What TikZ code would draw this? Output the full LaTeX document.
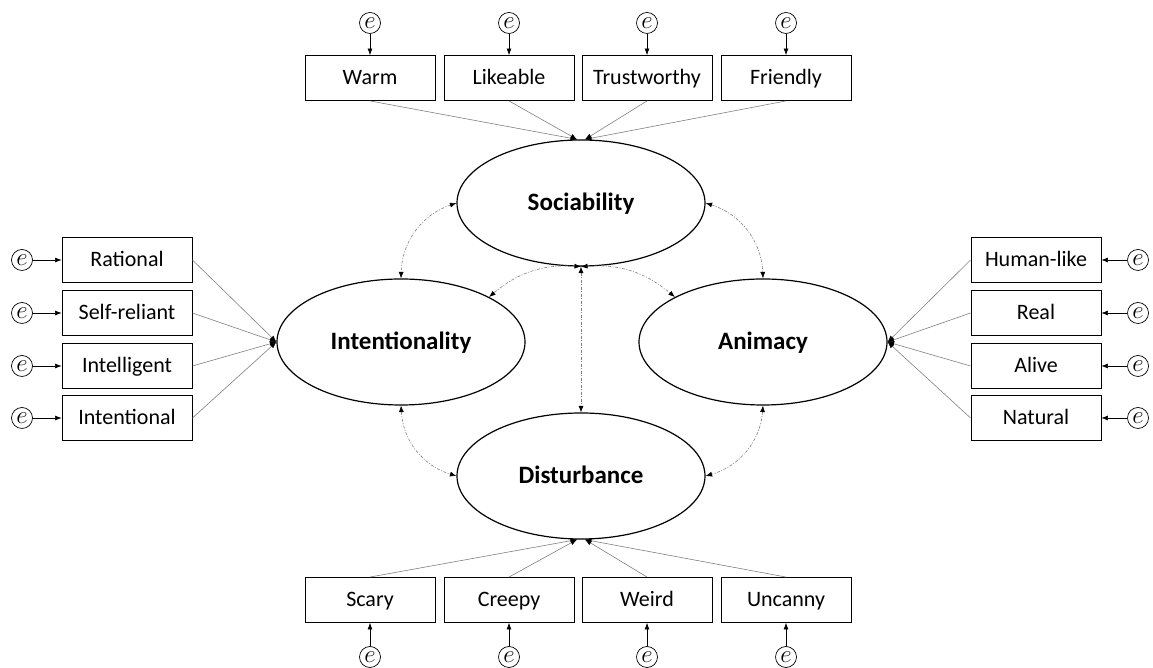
\documentclass[tikz,border=0pt]{standalone}
\usepackage{fontspec}
\setmainfont{Carlito}
\usepackage{tikz}
\usetikzlibrary{arrows.meta,shapes.geometric}

\begin{document}
\begin{tikzpicture}[x=1pt, y=1pt,
    obs/.style={draw, line width=0.9pt, minimum width=130pt, minimum height=45pt, inner sep=0pt, text height=14pt, text depth=0pt, font=\fontsize{22}{24}\selectfont},
    lat/.style={draw, ellipse, line width=1.2pt, minimum width=248pt, minimum height=126pt, inner sep=0pt, text height=16pt, text depth=0pt, font=\fontsize{25}{28}\selectfont\bfseries},
    err/.style={draw, circle, line width=0.7pt, minimum size=21pt, inner sep=0pt, font=\fontsize{24}{24}\selectfont},
    load/.style={-{Latex[length=6.5pt,width=5pt,color=black]}, draw=gray, line width=0.6pt},
    res/.style={-{Latex[length=6.5pt,width=5pt]}, line width=0.6pt},
    cov/.style={{Latex[length=6.5pt,width=5pt,color=black]}-{Latex[length=6.5pt,width=5pt,color=black]}, draw=gray, line width=0.6pt, dash pattern=on 3pt off 1.5pt on 1pt off 1.5pt}]
	\useasboundingbox (0, 0) rectangle (1153, 668);
	% latent factors
	\node[lat] (soc) at (581, 465) {Sociability};
	\node[lat] (int) at (401, 326) {Intentionality};
	\node[lat] (ani) at (763, 326) {Animacy};
	\node[lat] (dis) at (581, 192) {Disturbance};
	% sociability items
	\node[obs] (warm) at (370, 590) {Warm};
	\node[obs] (like) at (509, 590) {Likeable};
	\node[obs] (trust) at (647, 590) {Trustworthy};
	\node[obs] (friend) at (786, 590) {Friendly};
	\node[err] (ewarm) at (370, 645) {$e$};
	\node[err] (elike) at (509, 645) {$e$};
	\node[err] (etrust) at (647, 645) {$e$};
	\node[err] (efriend) at (786, 645) {$e$};
	% intentionality items
	\node[obs] (rat) at (127, 408) {Rational};
	\node[obs] (self) at (127, 355) {Self-reliant};
	\node[obs] (intel) at (127, 302) {Intelligent};
	\node[obs] (inten) at (127, 250) {Intentional};
	\node[err] (erat) at (22, 408) {$e$};
	\node[err] (eself) at (22, 355) {$e$};
	\node[err] (eintel) at (22, 302) {$e$};
	\node[err] (einten) at (22, 250) {$e$};
	% animacy items
	\node[obs] (hum) at (1036, 408) {Human-like};
	\node[obs] (real) at (1036, 355) {Real};
	\node[obs] (alive) at (1036, 302) {Alive};
	\node[obs] (nat) at (1036, 250) {Natural};
	\node[err] (ehum) at (1138, 408) {$e$};
	\node[err] (ereal) at (1138, 355) {$e$};
	\node[err] (ealive) at (1138, 302) {$e$};
	\node[err] (enat) at (1138, 250) {$e$};
	% disturbance items
	\node[obs] (scary) at (370, 68) {Scary};
	\node[obs] (creepy) at (509, 68) {Creepy};
	\node[obs] (weird) at (647, 68) {Weird};
	\node[obs] (unc) at (786, 68) {Uncanny};
	\node[err] (escary) at (370, 11) {$e$};
	\node[err] (ecreepy) at (509, 11) {$e$};
	\node[err] (eweird) at (647, 11) {$e$};
	\node[err] (eunc) at (786, 11) {$e$};
	% error terms
	\draw[res] (ewarm) -- (warm);
	\draw[res] (elike) -- (like);
	\draw[res] (etrust) -- (trust);
	\draw[res] (efriend) -- (friend);
	\draw[res] (erat) -- (rat);
	\draw[res] (eself) -- (self);
	\draw[res] (eintel) -- (intel);
	\draw[res] (einten) -- (inten);
	\draw[res] (ehum) -- (hum);
	\draw[res] (ereal) -- (real);
	\draw[res] (ealive) -- (alive);
	\draw[res] (enat) -- (nat);
	\draw[res] (escary) -- (scary);
	\draw[res] (ecreepy) -- (creepy);
	\draw[res] (eweird) -- (weird);
	\draw[res] (eunc) -- (unc);
	% loadings
	\draw[load] (warm.south) -- ([xshift=-4pt]soc.north);
	\draw[load] (like.south) -- ([xshift=-4pt]soc.north);
	\draw[load] (trust.south) -- ([xshift=4pt]soc.north);
	\draw[load] (friend.south) -- ([xshift=4pt]soc.north);
	\draw[load] (rat.east) -- (int.west);
	\draw[load] (self.east) -- (int.west);
	\draw[load] (intel.east) -- (int.west);
	\draw[load] (inten.east) -- (int.west);
	\draw[load] (hum.west) -- (ani.east);
	\draw[load] (real.west) -- (ani.east);
	\draw[load] (alive.west) -- (ani.east);
	\draw[load] (nat.west) -- (ani.east);
	\draw[load] (scary.north) -- ([xshift=-4pt]dis.south);
	\draw[load] (creepy.north) -- ([xshift=-4pt]dis.south);
	\draw[load] (weird.north) -- ([xshift=4pt]dis.south);
	\draw[load] (unc.north) -- ([xshift=4pt]dis.south);
	% covariances
	\draw[cov] (soc.west) to[bend right=35] (int.north);
	\draw[cov] (soc.east) to[bend left=35] (ani.north);
	\draw[cov] (soc.south) to[bend right=22] (int.north east);
	\draw[cov] (soc.south) to[bend left=22] (ani.north west);
	\draw[cov] (soc.south) -- (dis.north);
	\draw[cov] (int.south) to[bend right=35] (dis.west);
	\draw[cov] (ani.south) to[bend left=35] (dis.east);
\end{tikzpicture}
\end{document}
